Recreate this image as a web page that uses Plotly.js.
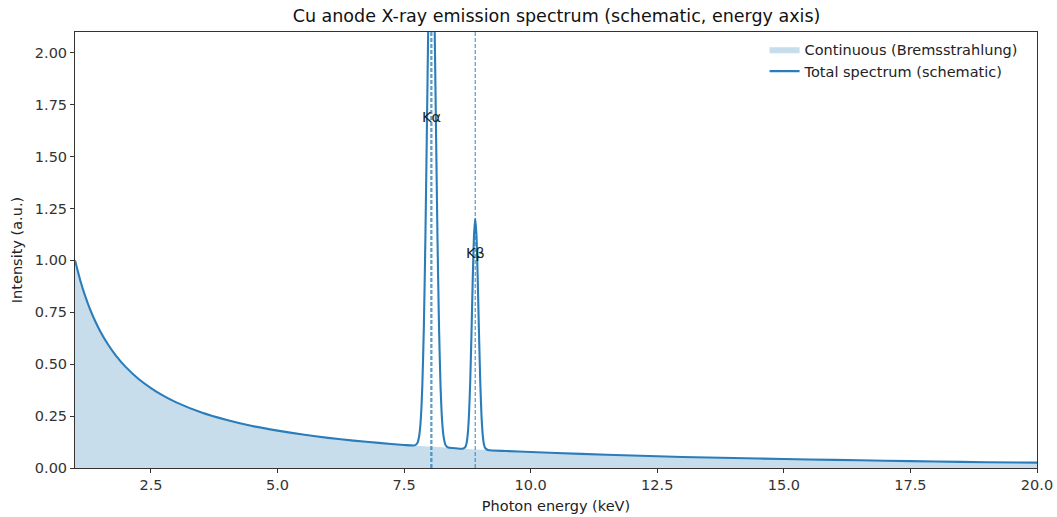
<!DOCTYPE html>
<html>
<head>
<meta charset="utf-8">
<script src="https://cdn.plot.ly/plotly-3.0.1.min.js"></script>
<style>html,body{margin:0;padding:0;background:#fff;}#chart{width:1057px;height:517px;}</style>
</head>
<body>
<div id="chart"></div>
<script>
// Continuous (Bremsstrahlung) component
const contEnergy = [1.0, 1.1, 1.2, 1.3, 1.4, 1.5, 1.65, 1.8, 2.0, 2.25, 2.5, 2.75, 3.0, 3.5, 4.0, 4.5, 5.0, 5.5, 6.0, 6.5, 7.0, 7.5, 8.0, 8.5, 9.0, 9.5, 10, 11, 12, 13, 14, 15, 16, 17, 18, 19, 20];
const contIntensity = [1.000, 0.907, 0.829, 0.763, 0.707, 0.658, 0.596, 0.544, 0.487, 0.430, 0.385, 0.347, 0.316, 0.267, 0.231, 0.202, 0.180, 0.161, 0.145, 0.132, 0.121, 0.111, 0.103, 0.095, 0.088, 0.082, 0.077, 0.068, 0.060, 0.053, 0.048, 0.043, 0.039, 0.035, 0.031, 0.028, 0.026];

// Total spectrum (continuum + characteristic lines)
const totalEnergy = [1.0, 1.1, 1.2, 1.3, 1.4, 1.5, 1.65, 1.8, 2.0, 2.25, 2.5, 2.75, 3.0, 3.5, 4.0, 4.5, 5.0, 5.5, 6.0, 6.5, 7.0, 7.5,
  7.71, 7.76, 7.80, 7.83, 7.86, 7.89, 7.92, 7.95, 7.98, 8.01, 8.04, 8.07, 8.10, 8.13, 8.16, 8.19, 8.22, 8.25, 8.28, 8.32, 8.37,
  8.45, 8.655, 8.705, 8.73, 8.755, 8.78, 8.805, 8.83, 8.855, 8.88, 8.905, 8.93, 8.955, 8.98, 9.005, 9.03, 9.055, 9.08, 9.105, 9.155,
  9.5, 10, 11, 12, 13, 14, 15, 16, 17, 18, 19, 20];
const totalIntensity = [1.000, 0.907, 0.829, 0.763, 0.707, 0.658, 0.596, 0.544, 0.487, 0.430, 0.385, 0.347, 0.316, 0.267, 0.231, 0.202, 0.180, 0.161, 0.145, 0.132, 0.121, 0.111,
  0.109, 0.119, 0.158, 0.236, 0.397, 0.677, 1.100, 1.634, 2.184, 2.603, 2.762, 2.603, 2.182, 1.632, 1.096, 0.673, 0.391, 0.230, 0.151, 0.110, 0.099,
  0.096, 0.093, 0.100, 0.116, 0.158, 0.248, 0.409, 0.641, 0.902, 1.117, 1.200, 1.116, 0.901, 0.639, 0.406, 0.245, 0.154, 0.111, 0.095, 0.087,
  0.082, 0.077, 0.068, 0.060, 0.053, 0.048, 0.043, 0.039, 0.035, 0.031, 0.028, 0.026];

// Characteristic line markers
const lineEnergies = [8.028, 8.048, 8.905];
const labelTexts = ['Kα', 'Kβ'];
const labelEnergies = [8.04, 8.905];
const labelHeights = [1.69, 1.035];

const xTicks = [2.5, 5.0, 7.5, 10.0, 12.5, 15.0, 17.5, 20.0];
const yTicks = [0, 0.25, 0.5, 0.75, 1.0, 1.25, 1.5, 1.75, 2.0];

const C0 = '#1f77b4';
const FONT = 'DejaVu Sans, Liberation Sans, sans-serif';
const FS = 14.5;

const traces = [
  {
    x: contEnergy, y: contIntensity, type: 'scatter', mode: 'lines',
    name: 'Continuous (Bremsstrahlung)',
    fill: 'tozeroy', fillcolor: 'rgba(31,119,180,0.25)',
    line: {width: 0, shape: 'spline', smoothing: 0.6, color: 'rgba(31,119,180,0.25)'},
    hoverinfo: 'skip'
  },
  {
    x: totalEnergy, y: totalIntensity, type: 'scatter', mode: 'lines',
    name: 'Total spectrum (schematic)',
    line: {width: 2.1, color: '#2a7dba', shape: 'spline', smoothing: 0.5},
    hoverinfo: 'skip'
  }
];

const shapes = lineEnergies.map(e => ({
  type: 'line', xref: 'x', yref: 'paper', x0: e, x1: e, y0: 0, y1: 1,
  line: {color: 'rgba(31,119,180,0.7)', width: 1.3, dash: '4px,2px'}
}));

const annotations = labelTexts.map((t, i) => ({
  x: labelEnergies[i], y: labelHeights[i], xref: 'x', yref: 'y',
  text: t, showarrow: false, xanchor: 'center', yanchor: 'middle',
  font: {family: FONT, size: FS, color: '#222'}
}));

const layout = {
  width: 1057, height: 517,
  margin: {l: 75, r: 20, t: 32, b: 49},
  paper_bgcolor: '#fff', plot_bgcolor: '#fff',
  font: {family: FONT, size: FS, color: '#222'},
  title: {
    text: 'Cu anode X-ray emission spectrum (schematic, energy axis)',
    font: {family: FONT, size: 17.5, color: '#111'},
    x: 0.5265, xanchor: 'center', y: 0.969, yanchor: 'middle'
  },
  xaxis: {
    range: [1, 20], tickvals: xTicks, ticktext: xTicks.map(v => v.toFixed(1)),
    ticks: 'outside', ticklen: 4, tickcolor: '#333', tickwidth: 1,
    showline: true, linecolor: '#333', linewidth: 1, mirror: true,
    showgrid: false, zeroline: false,
    title: {text: 'Photon energy (keV)', font: {family: FONT, size: FS, color: '#222'}, standoff: 8},
    tickfont: {family: FONT, size: FS, color: '#333'}
  },
  yaxis: {
    range: [0, 2.1], tickvals: yTicks, ticktext: yTicks.map(v => v.toFixed(2)),
    ticks: 'outside', ticklen: 4, tickcolor: '#333', tickwidth: 1,
    showline: true, linecolor: '#333', linewidth: 1, mirror: true,
    showgrid: false, zeroline: false,
    title: {text: 'Intensity (a.u.)', font: {family: FONT, size: FS, color: '#222'}, standoff: 8},
    tickfont: {family: FONT, size: FS, color: '#333'}
  },
  legend: {
    x: 0.985, xanchor: 'right', y: 0.997, yanchor: 'top',
    bgcolor: 'rgba(255,255,255,0.85)', borderwidth: 0,
    font: {family: FONT, size: FS, color: '#222'}, tracegroupgap: 0, itemwidth: 30
  },
  shapes: shapes,
  annotations: annotations,
  showlegend: true
};

Plotly.newPlot('chart', traces, layout, {displayModeBar: false, staticPlot: true});
</script>
</body>
</html>
